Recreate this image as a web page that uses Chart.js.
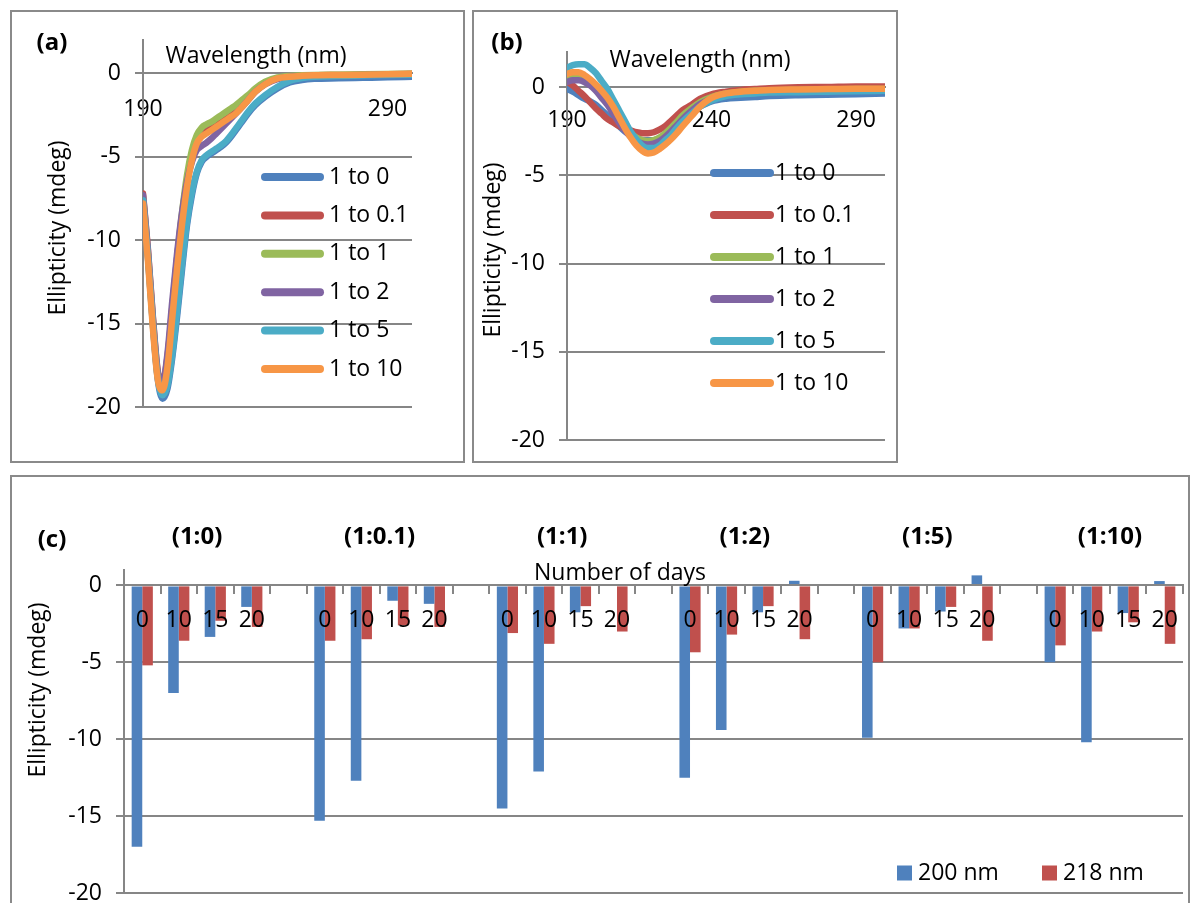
<!DOCTYPE html>
<html>
<head>
<meta charset="utf-8">
<script src="https://cdn.jsdelivr.net/npm/chart.js@4.4.1/dist/chart.umd.min.js"></script>
<style>
  body { margin: 0; width: 1200px; height: 903px; overflow: hidden; background: #fff; position: relative; }
  .panel { position: absolute; border: 2px solid #8a8a8a; box-sizing: border-box; background: #fff; }
  .panel canvas { position: absolute; left: 0; top: 0; }
</style>
</head>
<body>
<div class="panel" style="left:10px;top:10px;width:455px;height:453px"><canvas id="chartA" width="451" height="449" style="width:451px;height:449px"></canvas></div>
<div class="panel" style="left:472px;top:10px;width:426px;height:453px"><canvas id="chartB" width="422" height="449" style="width:422px;height:449px"></canvas></div>
<div class="panel" style="left:10px;top:475px;width:1180px;height:440px"><canvas id="chartC" width="1176" height="436" style="width:1176px;height:436px"></canvas></div>
<script>
// ---- data ----
const wavelengths = [190,192,194,196,198,200,202,204,206,208,210,212,214,216,218,220,222,224,226,228,230,233,236,240,245,250,255,260,270,280,290,300];
const ratioNames = ["1 to 0", "1 to 0.1", "1 to 1", "1 to 2", "1 to 5", "1 to 10"];
const yTicks = [0, -5, -10, -15, -20];
const xTicksA = [190, 290];
const xTicksB = [190, 240, 290];

// panel (a)
const a_1to0   = [-7.7,-11.0,-15.0,-18.3,-19.5,-18.9,-17.0,-14.5,-11.7,-9.1,-7.3,-6.0,-5.3,-5.0,-4.8,-4.6,-4.4,-4.15,-3.8,-3.4,-3.0,-2.4,-1.9,-1.4,-0.9,-0.55,-0.4,-0.33,-0.3,-0.27,-0.24,-0.2];
const a_1to01  = [-7.2,-10.5,-14.5,-17.8,-18.5,-17.0,-14.0,-11.0,-8.5,-6.5,-5.0,-4.1,-3.6,-3.4,-3.25,-3.05,-2.85,-2.65,-2.45,-2.2,-1.95,-1.5,-1.05,-0.6,-0.3,-0.2,-0.15,-0.12,-0.1,-0.08,-0.05,-0.03];
const a_1to1   = [-7.4,-10.8,-14.8,-18.1,-18.8,-17.2,-14.1,-11.0,-8.3,-6.1,-4.6,-3.7,-3.25,-3.05,-2.9,-2.7,-2.5,-2.3,-2.1,-1.9,-1.65,-1.3,-0.9,-0.5,-0.25,-0.15,-0.12,-0.1,-0.08,-0.06,-0.04,-0.02];
const a_1to2   = [-7.3,-10.6,-14.6,-17.9,-18.6,-16.8,-13.6,-10.7,-8.3,-6.5,-5.3,-4.6,-4.35,-4.15,-3.9,-3.6,-3.3,-3.0,-2.7,-2.4,-2.1,-1.6,-1.1,-0.65,-0.35,-0.22,-0.17,-0.14,-0.12,-0.1,-0.08,-0.06];
const a_1to5   = [-7.6,-10.9,-14.9,-18.2,-19.3,-18.7,-16.8,-14.2,-11.4,-8.9,-7.1,-5.9,-5.2,-4.9,-4.7,-4.5,-4.3,-4.05,-3.7,-3.3,-2.9,-2.3,-1.8,-1.3,-0.8,-0.45,-0.28,-0.2,-0.16,-0.13,-0.1,-0.08];
const a_1to10  = [-7.8,-11.2,-15.2,-18.3,-19.0,-17.6,-14.6,-11.6,-9.0,-6.8,-5.2,-4.2,-3.8,-3.6,-3.4,-3.2,-3.0,-2.8,-2.6,-2.4,-2.1,-1.6,-1.1,-0.65,-0.3,-0.2,-0.15,-0.12,-0.1,-0.08,-0.05,-0.03];

// panel (b)
const b_1to0   = [-0.1,-0.25,-0.45,-0.65,-0.8,-1.0,-1.3,-1.6,-1.9,-2.2,-2.5,-2.7,-2.9,-3.0,-3.0,-3.0,-2.9,-2.7,-2.4,-2.1,-1.8,-1.4,-1.1,-0.8,-0.65,-0.6,-0.55,-0.5,-0.45,-0.42,-0.4,-0.35];
const b_1to01  = [0.35,0.1,-0.2,-0.5,-0.85,-1.2,-1.5,-1.8,-2.0,-2.2,-2.35,-2.45,-2.55,-2.6,-2.6,-2.55,-2.4,-2.2,-1.9,-1.6,-1.3,-1.0,-0.65,-0.4,-0.25,-0.15,-0.1,-0.05,0,0.02,0.05,0.05];
const b_1to1   = [0.55,0.65,0.65,0.55,0.3,0.0,-0.4,-0.85,-1.35,-1.85,-2.3,-2.6,-2.85,-3.0,-3.05,-3.0,-2.85,-2.6,-2.3,-1.95,-1.6,-1.2,-0.85,-0.55,-0.35,-0.25,-0.2,-0.18,-0.15,-0.12,-0.1,-0.1];
const b_1to2   = [0.3,0.4,0.4,0.3,0.1,-0.2,-0.6,-1.0,-1.5,-2.0,-2.45,-2.8,-3.05,-3.2,-3.25,-3.2,-3.05,-2.8,-2.5,-2.15,-1.8,-1.35,-0.95,-0.65,-0.45,-0.35,-0.3,-0.28,-0.25,-0.22,-0.2,-0.2];
const b_1to5   = [1.1,1.25,1.3,1.3,1.1,0.8,0.35,-0.1,-0.7,-1.3,-1.9,-2.5,-2.95,-3.3,-3.45,-3.45,-3.3,-3.0,-2.7,-2.3,-1.95,-1.5,-1.1,-0.75,-0.5,-0.4,-0.35,-0.3,-0.28,-0.25,-0.22,-0.2];
const b_1to10  = [0.75,0.85,0.85,0.7,0.45,0.15,-0.2,-0.6,-1.1,-1.7,-2.3,-2.85,-3.3,-3.6,-3.75,-3.7,-3.5,-3.25,-2.95,-2.6,-2.2,-1.65,-1.1,-0.6,-0.35,-0.25,-0.2,-0.15,-0.12,-0.1,-0.08,-0.08];

// panel (c): four days per ratio group
const days = ["0", "10", "15", "20"];
const ratioGroups = ["(1:0)", "(1:0.1)", "(1:1)", "(1:2)", "(1:5)", "(1:10)"];
const nm200 = [-17.0,-7.0,-3.35,-1.4,  -15.3,-12.7,-1.0,-1.2,  -14.5,-12.1,-1.75,0,  -12.5,-9.4,-1.75,0.3,  -9.9,-2.8,-1.7,0.65,  -5.0,-10.2,-1.8,0.28];
const nm218 = [-5.2,-3.6,-2.3,-2.7,  -3.6,-3.5,-2.6,-2.7,  -3.1,-3.8,-1.35,-3.0,  -4.35,-3.2,-1.35,-3.5,  -5.0,-2.8,-1.4,-3.6,  -3.9,-3.0,-2.4,-3.8];
const barNames = ["200 nm", "218 nm"];

// ---- styling ----
const seriesColors = ["#4F81BD", "#C0504D", "#9BBB59", "#8064A2", "#4BACC6", "#F79646"];
const axisGray = "#868686";
const FONT = "'Open Sans', sans-serif";
const tickFont = {family: FONT, size: 23};

// draws titles, panel letters and the hand-placed legends
const decorations = {
  id: "decorations",
  afterDraw(chart, args, opts) {
    const ctx = chart.ctx;
    ctx.save();
    ctx.fillStyle = "#000";
    ctx.textBaseline = "middle";
    (opts.texts || []).forEach(t => {
      ctx.save();
      ctx.font = t.bold ? "bold 24px " + FONT : "23px " + FONT;
      ctx.textAlign = t.align || "center";
      ctx.translate(t.x, t.y);
      if (t.rotate) ctx.rotate(t.rotate);
      ctx.fillText(t.text, 0, 0);
      ctx.restore();
    });
    if (opts.groups) {
      const xs = chart.scales.x;
      ctx.font = "bold 24px " + FONT;
      ctx.textAlign = "center";
      opts.groups.labels.forEach((g, i) => {
        const first = i * 5, last = first + 3;
        const cx = (xs.getPixelForValue(first) + xs.getPixelForValue(last)) / 2;
        ctx.fillText(g, cx, opts.groups.y);
      });
    }
    const lg = opts.lineLegend;
    if (lg) {
      ctx.font = "23px " + FONT;
      ctx.textAlign = "left";
      chart.data.datasets.forEach((ds, i) => {
        const y = lg.y + i * lg.step;
        ctx.strokeStyle = ds.borderColor;
        ctx.lineWidth = 8;
        ctx.lineCap = "round";
        ctx.beginPath();
        ctx.moveTo(lg.x, y);
        ctx.lineTo(lg.x + lg.len, y);
        ctx.stroke();
        ctx.fillText(ds.label, lg.x + lg.len + lg.gap, y);
      });
    }
    const bl = opts.boxLegend;
    if (bl) {
      ctx.font = "23px " + FONT;
      ctx.textAlign = "left";
      chart.data.datasets.forEach((ds, i) => {
        ctx.fillStyle = ds.backgroundColor;
        ctx.fillRect(bl.xs[i], bl.y - bl.size / 2, bl.size, bl.size);
        ctx.fillStyle = "#000";
        ctx.fillText(ds.label, bl.xs[i] + bl.size + 6, bl.y);
      });
    }
    ctx.restore();
  }
};

function spectrumSets(list) {
  return list.map((vals, i) => ({
    label: ratioNames[i],
    data: vals.map((v, k) => ({x: wavelengths[k], y: v})),
    borderColor: seriesColors[i],
    borderWidth: 6.5,
    borderCapStyle: "round",
    borderJoinStyle: "round",
    pointRadius: 0,
    cubicInterpolationMode: "monotone",
    fill: false,
    order: list.length - i
  }));
}

// the axis boxes should not push the plot area around
function noPadding(s) {
  s.paddingTop = 0; s.paddingBottom = 0; s.paddingLeft = 0; s.paddingRight = 0;
}

function yAxis(width, max) {
  return {
    min: -20, max: max,
    afterBuildTicks: s => { s.ticks = yTicks.map(v => ({value: v})); },
    afterFit: s => { s.width = width; noPadding(s); },
    grid: {color: axisGray, lineWidth: 2, tickLength: 8},
    border: {color: axisGray, width: 2},
    ticks: {color: "#000", font: tickFont, padding: 14}
  };
}

function spectrumChart(id, sets, xTicks, area, deco) {
  const canvas = document.getElementById(id);
  return new Chart(canvas, {
    type: "line",
    data: {datasets: sets},
    options: {
      responsive: false,
      animation: false,
      devicePixelRatio: 1,
      layout: {padding: {left: 0, top: area.top, right: canvas.width - area.right, bottom: canvas.height - area.bottom}},
      plugins: {legend: {display: false}, tooltip: {enabled: false}, decorations: deco},
      scales: {
        x: {
          type: "linear", min: 190, max: 300, position: {y: 0},
          afterBuildTicks: s => { s.ticks = xTicks.map(v => ({value: v})); },
          afterFit: noPadding,
          grid: {drawOnChartArea: false, drawTicks: false, color: axisGray, lineWidth: 2},
          border: {color: axisGray, width: 2},
          ticks: {color: "#000", font: tickFont, padding: area.xPad, maxRotation: 0, autoSkip: false}
        },
        y: yAxis(area.left, 2)
      }
    },
    plugins: [decorations]
  });
}

spectrumChart("chartA",
  spectrumSets([a_1to0, a_1to01, a_1to1, a_1to2, a_1to5, a_1to10]),
  xTicksA,
  {left: 131, right: 400, top: 28, bottom: 395, xPad: 22},
  {
    texts: [
      {text: "(a)", x: 40, y: 31, bold: true},
      {text: "Wavelength (nm)", x: 244, y: 44},
      {text: "Ellipticity (mdeg)", x: 46, y: 216, rotate: -Math.PI / 2}
    ],
    lineLegend: {x: 253, y: 165, step: 38.4, len: 55, gap: 9}
  });

spectrumChart("chartB",
  spectrumSets([b_1to0, b_1to01, b_1to1, b_1to2, b_1to5, b_1to10]),
  xTicksB,
  {left: 93, right: 411, top: 40, bottom: 428, xPad: 19},
  {
    texts: [
      {text: "(b)", x: 33, y: 31, bold: true},
      {text: "Wavelength (nm)", x: 226, y: 48},
      {text: "Ellipticity (mdeg)", x: 19, y: 238, rotate: -Math.PI / 2}
    ],
    lineLegend: {x: 240, y: 161, step: 42, len: 56, gap: 5}
  });

// bar panel: a blank category separates the ratio groups
const dayCategories = [];
const bar200 = [];
const bar218 = [];
ratioGroups.forEach((g, gi) => {
  days.forEach((d, di) => {
    dayCategories.push(d);
    bar200.push(nm200[gi * 4 + di]);
    bar218.push(nm218[gi * 4 + di]);
  });
  if (gi < ratioGroups.length - 1) {
    dayCategories.push("");
    bar200.push(null);
    bar218.push(null);
  }
});

const canvasC = document.getElementById("chartC");
new Chart(canvasC, {
  type: "bar",
  data: {
    labels: dayCategories,
    datasets: [
      {label: barNames[0], data: bar200, backgroundColor: seriesColors[0], categoryPercentage: 0.58, barPercentage: 1},
      {label: barNames[1], data: bar218, backgroundColor: seriesColors[1], categoryPercentage: 0.58, barPercentage: 1}
    ]
  },
  options: {
    responsive: false,
    animation: false,
    devicePixelRatio: 1,
    layout: {padding: {left: 0, top: 93, right: 5, bottom: 20}},
    plugins: {
      legend: {display: false},
      tooltip: {enabled: false},
      decorations: {
        texts: [
          {text: "(c)", x: 40, y: 63, bold: true},
          {text: "Number of days", x: 608, y: 96},
          {text: "Ellipticity (mdeg)", x: 26, y: 213, rotate: -Math.PI / 2}
        ],
        groups: {labels: ratioGroups, y: 60},
        boxLegend: {xs: [885, 1030], y: 396, size: 15}
      }
    },
    scales: {
      x: {
        position: {y: 0}, offset: true,
        afterFit: noPadding,
        grid: {drawOnChartArea: false, offset: true, color: axisGray, lineWidth: 2, tickLength: 8, z: 1},
        border: {color: axisGray, width: 2, z: 1},
        ticks: {color: "#000", font: tickFont, padding: 13, maxRotation: 0, autoSkip: false, z: 1}
      },
      y: yAxis(112, 1)
    }
  },
  plugins: [decorations]
});
</script>
</body>
</html>
